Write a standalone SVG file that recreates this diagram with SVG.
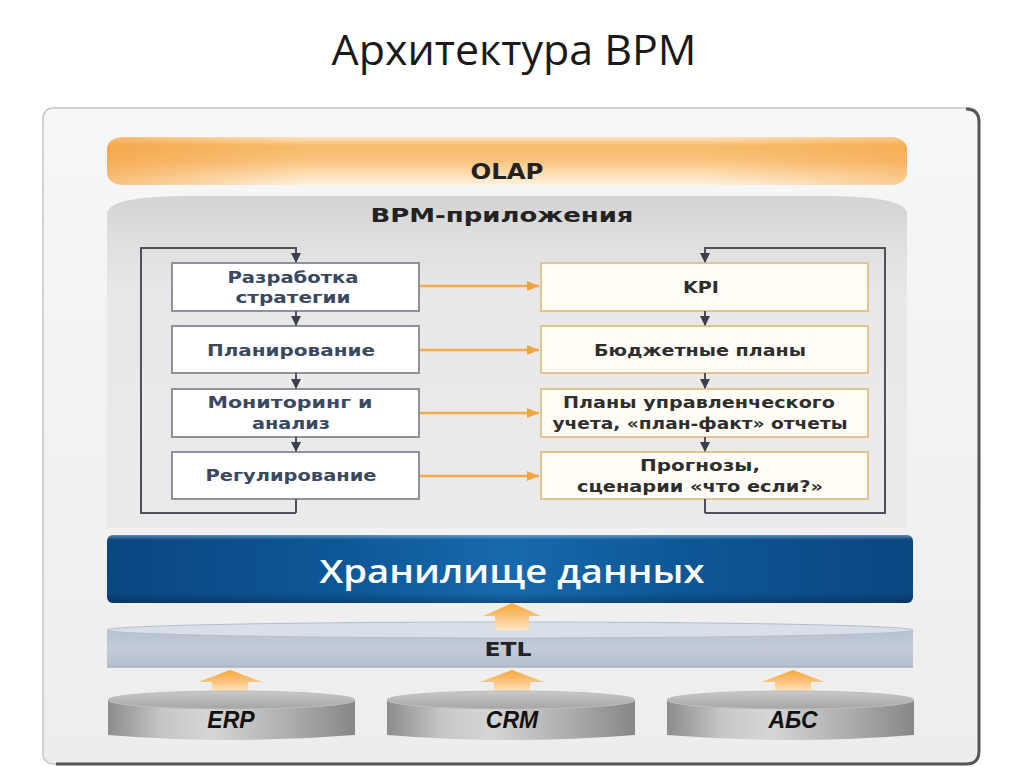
<svg xmlns="http://www.w3.org/2000/svg" width="1024" height="767" viewBox="0 0 1024 767">
<style>
.ttl{font-family:"Open Sans","Liberation Sans",sans-serif;font-size:42px;fill:#1a1a1a}
.hdr{font-family:"DejaVu Sans","Liberation Sans",sans-serif;font-weight:bold;fill:#222}
.lt{font-family:"DejaVu Sans","Liberation Sans",sans-serif;font-weight:bold;font-size:16px;fill:#3a4860}
.rt{font-family:"DejaVu Sans","Liberation Sans",sans-serif;font-weight:bold;font-size:16px;fill:#2e2e2e}
.src{font-family:"Liberation Sans","DejaVu Sans",sans-serif;font-weight:bold;font-style:italic;font-size:23px;fill:#111}
.lbox{fill:#ffffff;stroke:#8d929b;stroke-width:2}
.rbox{fill:#fffdf6;stroke:#e2c490;stroke-width:2}
.loop{fill:none;stroke:#4d525a;stroke-width:2}
.oarr{fill:none;stroke:#f1ac4e;stroke-width:2.5}
.bigarr{fill:url(#arrG)}
</style>
<defs>
<linearGradient id="frameG" x1="0" y1="0" x2="0" y2="1"><stop offset="0" stop-color="#f7f7f7"/><stop offset="1" stop-color="#ededed"/></linearGradient>
<linearGradient id="olapG" x1="0" y1="0" x2="0" y2="1">
<stop offset="0" stop-color="#fde6c4"/><stop offset="0.18" stop-color="#f8bb68"/><stop offset="0.5" stop-color="#f9c580"/><stop offset="0.8" stop-color="#fde1b9"/><stop offset="1" stop-color="#fdf1e0"/>
</linearGradient>
<linearGradient id="olapH" x1="0" y1="0" x2="1" y2="0">
<stop offset="0" stop-color="#f29a36" stop-opacity="0.55"/><stop offset="0.25" stop-color="#f29a36" stop-opacity="0"/><stop offset="0.75" stop-color="#f29a36" stop-opacity="0"/><stop offset="1" stop-color="#f29a36" stop-opacity="0.4"/>
</linearGradient>
<linearGradient id="bpmG" x1="0" y1="0" x2="0" y2="1">
<stop offset="0" stop-color="#d3d3d3"/><stop offset="0.12" stop-color="#dedede"/><stop offset="0.3" stop-color="#e8e8e8"/><stop offset="1" stop-color="#ebebeb"/>
</linearGradient>
<linearGradient id="blueH" x1="0" y1="0" x2="1" y2="0">
<stop offset="0" stop-color="#0a4680"/><stop offset="0.3" stop-color="#0e5898"/><stop offset="0.5" stop-color="#1769ad"/><stop offset="0.7" stop-color="#0e5898"/><stop offset="1" stop-color="#0a4680"/>
</linearGradient>
<linearGradient id="blueV" x1="0" y1="0" x2="0" y2="1">
<stop offset="0" stop-color="#ffffff" stop-opacity="0.35"/><stop offset="0.07" stop-color="#ffffff" stop-opacity="0"/><stop offset="0.85" stop-color="#000000" stop-opacity="0"/><stop offset="1" stop-color="#000000" stop-opacity="0.25"/>
</linearGradient>
<linearGradient id="etlG" x1="0" y1="0" x2="0" y2="1">
<stop offset="0" stop-color="#b7c1cf"/><stop offset="0.5" stop-color="#c3ccd8"/><stop offset="1" stop-color="#b4bfcd"/>
</linearGradient>
<linearGradient id="cylG" x1="0" y1="0" x2="1" y2="0">
<stop offset="0" stop-color="#8c8c8c"/><stop offset="0.22" stop-color="#c6c6c6"/><stop offset="0.42" stop-color="#d6d6d6"/><stop offset="0.75" stop-color="#ababab"/><stop offset="1" stop-color="#878787"/>
</linearGradient>
<linearGradient id="cylTop" x1="0" y1="0" x2="0" y2="1">
<stop offset="0" stop-color="#c9c9c9"/><stop offset="1" stop-color="#a5a5a5"/>
</linearGradient>
<linearGradient id="arrG" x1="0" y1="0" x2="0" y2="1">
<stop offset="0" stop-color="#f6a73a"/><stop offset="0.5" stop-color="#f9c27a"/><stop offset="1" stop-color="#fde6c2"/>
</linearGradient>
<marker id="dk" markerUnits="userSpaceOnUse" markerWidth="10" markerHeight="10" refX="9" refY="5" orient="auto">
<path d="M0,0 L10,5 L0,10 Z" fill="#3a3f48"/>
</marker>
<marker id="or" markerUnits="userSpaceOnUse" markerWidth="12" markerHeight="10" refX="12" refY="5" orient="auto">
<path d="M0,0 L12,5 L0,10 Z" fill="#f0a43e"/>
</marker>
</defs>

<rect width="1024" height="767" fill="#ffffff"/>
<text class="ttl" x="514" y="65" text-anchor="middle" textLength="365" lengthAdjust="spacingAndGlyphs">Архитектура BPM</text>

<g id="frame">
<rect x="43" y="108" width="936" height="656" rx="10" fill="url(#frameG)" stroke="#c6c6c6" stroke-width="1.5"/>
<path d="M966,109 Q979,109 979,122 L979,751 Q979,764 966,764 L56,764" fill="none" stroke="#555555" stroke-width="3"/>
</g>

<g id="olap">
<rect x="107" y="137" width="800" height="48" rx="16" ry="12" fill="url(#olapG)"/>
<rect x="107" y="137" width="800" height="48" rx="16" ry="12" fill="url(#olapH)"/>
<text class="hdr" x="507" y="179" font-size="21" text-anchor="middle" textLength="73" lengthAdjust="spacingAndGlyphs">OLAP</text>
</g>

<g id="bpm">
<path d="M107,214 Q107,196 190,196 L824,196 Q907,196 907,214 L907,528 L107,528 Z" fill="url(#bpmG)"/>
<text class="hdr" x="502" y="222" font-size="19" text-anchor="middle" textLength="263" lengthAdjust="spacingAndGlyphs">BPM-приложения</text>
</g>

<g id="n-strategy">
<rect class="lbox" x="172" y="263" width="247" height="48"/>
<text class="lt" x="293" y="283" text-anchor="middle" textLength="131" lengthAdjust="spacingAndGlyphs">Разработка</text>
<text class="lt" x="293" y="303" text-anchor="middle" textLength="115" lengthAdjust="spacingAndGlyphs">стратегии</text>
</g>
<g id="n-planning">
<rect class="lbox" x="172" y="326" width="247" height="47"/>
<text class="lt" x="291" y="356" text-anchor="middle" textLength="168" lengthAdjust="spacingAndGlyphs">Планирование</text>
</g>
<g id="n-monitoring">
<rect class="lbox" x="172" y="389" width="247" height="48"/>
<text class="lt" x="290" y="408" text-anchor="middle" textLength="165" lengthAdjust="spacingAndGlyphs">Мониторинг и</text>
<text class="lt" x="291" y="429" text-anchor="middle" textLength="78" lengthAdjust="spacingAndGlyphs">анализ</text>
</g>
<g id="n-regulation">
<rect class="lbox" x="172" y="452" width="247" height="47"/>
<text class="lt" x="291" y="481" text-anchor="middle" textLength="171" lengthAdjust="spacingAndGlyphs">Регулирование</text>
</g>

<g id="n-kpi">
<rect class="rbox" x="541" y="263" width="327" height="48"/>
<text class="rt" x="701" y="293" text-anchor="middle" textLength="36" lengthAdjust="spacingAndGlyphs">KPI</text>
</g>
<g id="n-budget">
<rect class="rbox" x="541" y="326" width="327" height="47"/>
<text class="rt" x="700" y="356" text-anchor="middle" textLength="212" lengthAdjust="spacingAndGlyphs">Бюджетные планы</text>
</g>
<g id="n-reports">
<rect class="rbox" x="541" y="389" width="327" height="48"/>
<text class="rt" x="699" y="408" text-anchor="middle" textLength="272" lengthAdjust="spacingAndGlyphs">Планы управленческого</text>
<text class="rt" x="700" y="429" text-anchor="middle" textLength="295" lengthAdjust="spacingAndGlyphs">учета, «план-факт» отчеты</text>
</g>
<g id="n-forecast">
<rect class="rbox" x="541" y="452" width="327" height="47"/>
<text class="rt" x="700" y="471" text-anchor="middle" textLength="120" lengthAdjust="spacingAndGlyphs">Прогнозы,</text>
<text class="rt" x="700" y="492" text-anchor="middle" textLength="246" lengthAdjust="spacingAndGlyphs">сценарии «что если?»</text>
</g>

<g id="n-dwh">
<rect x="107" y="535" width="806" height="68" rx="6" fill="url(#blueH)"/>
<rect x="107" y="535" width="806" height="68" rx="6" fill="url(#blueV)"/>
<text x="512" y="583" text-anchor="middle" font-family="'Open Sans','Liberation Sans',sans-serif" font-weight="600" font-size="33" fill="#ffffff" textLength="385" lengthAdjust="spacingAndGlyphs">Хранилище данных</text>
</g>

<g id="n-etl">
<rect x="107" y="630" width="806" height="37" fill="url(#etlG)"/>
<path d="M107,667 L913,667" stroke="#a7b2c1" stroke-width="1.5"/>
<ellipse cx="510" cy="630" rx="403" ry="8" fill="#d9dfe9" stroke="#b3bdcb" stroke-width="1"/>
<text class="hdr" x="508" y="656" font-size="19" fill="#111" text-anchor="middle" textLength="47" lengthAdjust="spacingAndGlyphs">ETL</text>
</g>

<g id="connectors">
<path class="loop" d="M296,513 L296,499 M296,513 L141,513 L141,248 L296,248 L296,262" marker-end="url(#dk)"/>
<path class="loop" d="M296,311 L296,325" marker-end="url(#dk)"/>
<path class="loop" d="M296,373 L296,388" marker-end="url(#dk)"/>
<path class="loop" d="M296,437 L296,451" marker-end="url(#dk)"/>
<path class="loop" d="M705,513 L705,499 M705,513 L885,513 L885,248 L705,248 L705,262" marker-end="url(#dk)"/>
<path class="loop" d="M705,311 L705,325" marker-end="url(#dk)"/>
<path class="loop" d="M705,373 L705,388" marker-end="url(#dk)"/>
<path class="loop" d="M705,437 L705,451" marker-end="url(#dk)"/>
<path class="oarr" d="M420,286 L539,286" marker-end="url(#or)"/>
<path class="oarr" d="M420,350 L539,350" marker-end="url(#or)"/>
<path class="oarr" d="M420,413 L539,413" marker-end="url(#or)"/>
<path class="oarr" d="M420,476 L539,476" marker-end="url(#or)"/>
<polygon class="bigarr" points="512,603 541,616 529,616 529,630 495,630 495,616 483,616"/>
<polygon class="bigarr" points="230,670 262,682 248,682 248,692 212,692 212,682 198,682"/>
<polygon class="bigarr" points="512,670 544,682 530,682 530,692 494,692 494,682 480,682"/>
<polygon class="bigarr" points="793,670 825,682 811,682 811,692 775,692 775,682 761,682"/>
</g>

<g id="n-erp">
<path d="M108,700 L108,735 Q231,745 355,735 L355,700 Z" fill="url(#cylG)"/>
<ellipse cx="231.5" cy="700" rx="123.5" ry="9" fill="url(#cylTop)" stroke="#bdbdbd" stroke-width="1"/>
<text class="src" x="231" y="728" text-anchor="middle">ERP</text>
</g>
<g id="n-crm">
<path d="M387,700 L387,735 Q511,745 635,735 L635,700 Z" fill="url(#cylG)"/>
<ellipse cx="511" cy="700" rx="124" ry="9" fill="url(#cylTop)" stroke="#bdbdbd" stroke-width="1"/>
<text class="src" x="512" y="728" text-anchor="middle">CRM</text>
</g>
<g id="n-abs">
<path d="M667,700 L667,735 Q790,745 914,735 L914,700 Z" fill="url(#cylG)"/>
<ellipse cx="790.5" cy="700" rx="123.5" ry="9" fill="url(#cylTop)" stroke="#bdbdbd" stroke-width="1"/>
<text class="src" x="793" y="728" text-anchor="middle">АБС</text>
</g>
</svg>
